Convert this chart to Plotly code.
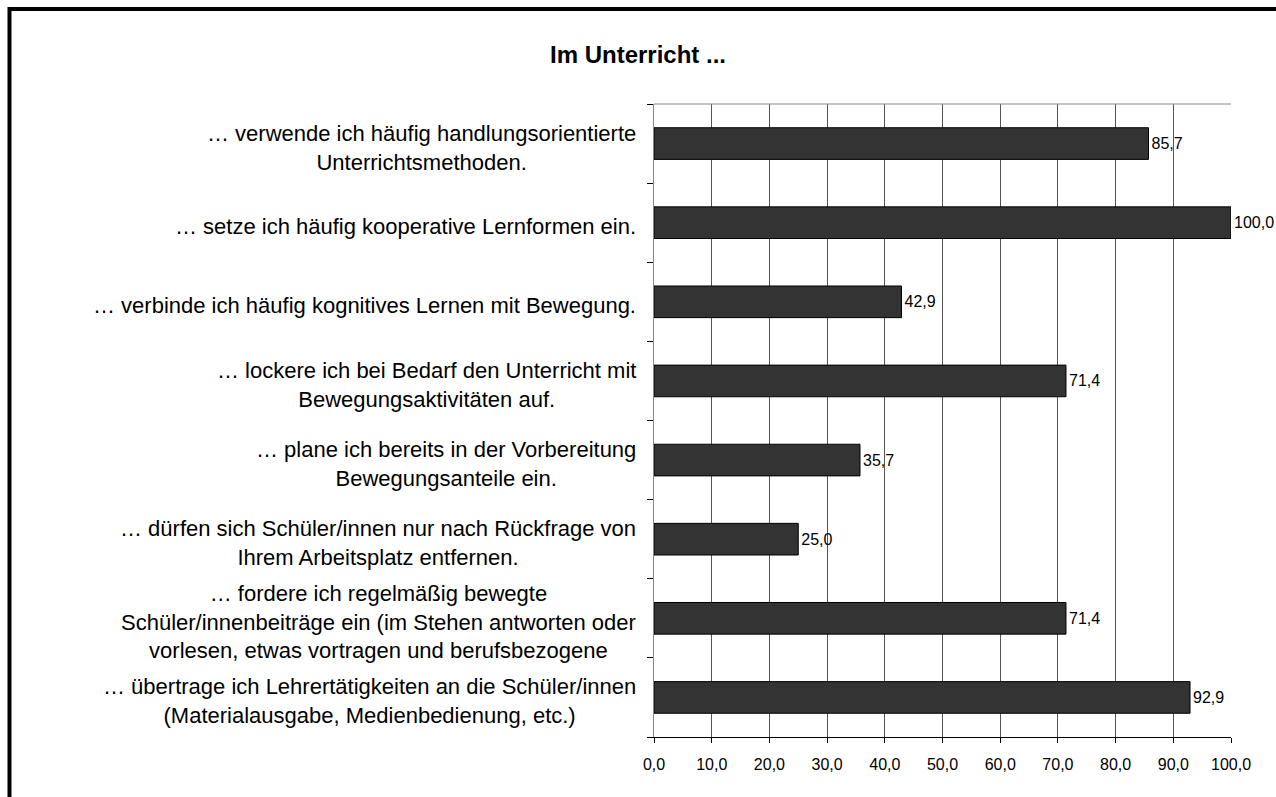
import plotly.graph_objects as go

# Aussagen (Reihenfolge von oben nach unten) und Zustimmung in Prozent
aussagen = [
    "… verwende ich häufig handlungsorientierte<br>Unterrichtsmethoden.",
    "… setze ich häufig kooperative Lernformen ein.",
    "… verbinde ich häufig kognitives Lernen mit Bewegung.",
    "… lockere ich bei Bedarf den Unterricht mit<br>Bewegungsaktivitäten auf.",
    "… plane ich bereits in der Vorbereitung<br>Bewegungsanteile ein.",
    "… dürfen sich Schüler/innen nur nach Rückfrage von<br>Ihrem Arbeitsplatz entfernen.",
    "… fordere ich regelmäßig bewegte<br>Schüler/innenbeiträge ein (im Stehen antworten oder<br>vorlesen, etwas vortragen und berufsbezogene",
    "… übertrage ich Lehrertätigkeiten an die Schüler/innen<br>(Materialausgabe, Medienbedienung, etc.)",
]
werte = [85.7, 100.0, 42.9, 71.4, 35.7, 25.0, 71.4, 92.9]
x_ticks = [0, 10, 20, 30, 40, 50, 60, 70, 80, 90, 100]

W, H = 1276, 797
L, R, T, B = 654, 1231, 104, 737  # Plotbereich in Pixeln

fig = go.Figure()
fig.add_trace(go.Bar(
    x=werte, y=list(range(len(werte))), orientation="h",
    marker=dict(color="#333333", line=dict(color="#000000", width=1)),
    width=0.4,
    texttemplate="%{x:.1f}", textposition="outside",
    textfont=dict(size=16, color="#000000"),
    cliponaxis=False,
))

# Beschriftungen links, zentriert ausgerichtet wie im Original
for i, txt in enumerate(aussagen):
    fig.add_annotation(
        x=0, xref="paper", y=i, yref="y", xanchor="right", xshift=-16,
        yshift=-4, text=txt, showarrow=False, align="center",
        font=dict(size=22, color="#000000"),
    )

# Rahmen um das ganze Diagramm
pw, ph = R - L, B - T
fig.add_shape(type="rect", xref="paper", yref="paper",
              x0=(9.5 - L) / pw, x1=(1300 - L) / pw,
              y0=(B - 820) / ph, y1=(B - 9) / ph,
              line=dict(color="#000000", width=4), layer="above")
# obere Kante des Plotbereichs
fig.add_shape(type="line", xref="paper", yref="paper", x0=0, x1=1, y0=1, y1=1,
              line=dict(color="#888888", width=1))

fig.update_layout(
    width=W, height=H,
    margin=dict(l=L, r=W - R, t=T, b=H - B),
    paper_bgcolor="white", plot_bgcolor="white",
    separators=",.",
    showlegend=False,
    font=dict(family="Liberation Sans, Arial, sans-serif", color="#000000"),
    title=dict(text="<b>Im Unterricht ...</b>", x=0.5, xref="container",
               y=1 - 55 / H, yanchor="middle", font=dict(size=24)),
    xaxis=dict(range=[0, 100], tickvals=x_ticks, tickformat=".1f",
               showgrid=True, gridcolor="#555555", gridwidth=1,
               showline=True, linecolor="#000000", linewidth=1,
               ticks="outside", ticklen=5, tickcolor="#000000",
               ticklabelstandoff=8,
               tickfont=dict(size=16), zeroline=False),
    yaxis=dict(range=[len(werte) - 0.5, -0.5], tickmode="array",
               tickvals=[i - 0.5 for i in range(len(werte) + 1)],
               showticklabels=False, showgrid=False, zeroline=False,
               showline=True, linecolor="#888888", linewidth=1,
               ticks="outside", ticklen=6, tickcolor="#000000"),
)

fig.write_html("out.html", config={"displayModeBar": False},
               post_script="document.body.style.margin='0';")
